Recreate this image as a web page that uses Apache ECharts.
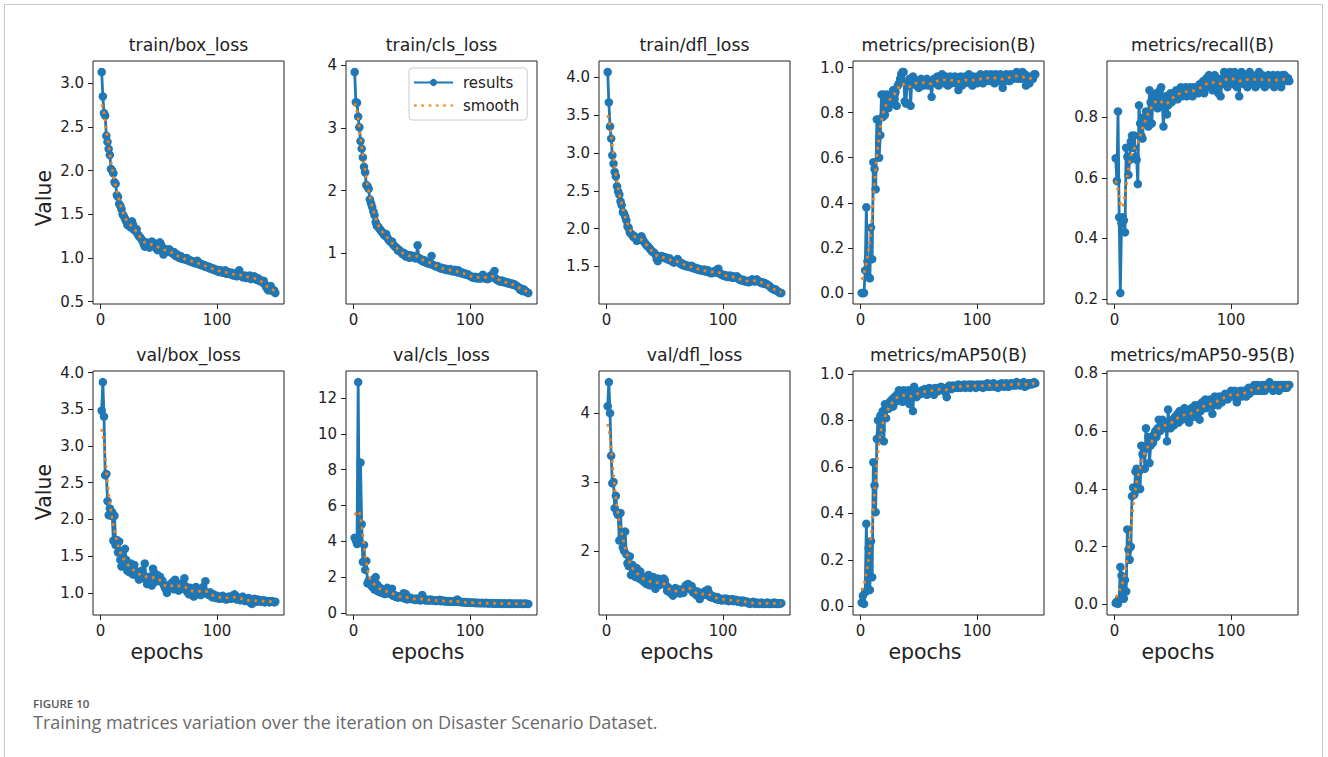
<!DOCTYPE html>
<html><head><meta charset="utf-8">
<script src="https://cdn.jsdelivr.net/npm/echarts@6/dist/echarts.min.js"></script>
<style>html,body{margin:0;padding:0;background:#fff;}#c{width:1328px;height:757px;}</style>
</head><body><div id="c"></div>
<script>
// ---------- DATA ----------
const epochs = Array.from({length: 150}, (_, i) => i + 1);
const xTicks = [0, 100];

const trainBoxLoss = [3.13,2.85,2.66,2.63,2.40,2.33,2.25,2.18,2.02,2.00,
1.97,1.87,1.85,1.72,1.70,1.62,1.60,1.56,1.50,1.48,
1.45,1.42,1.38,1.40,1.36,1.35,1.42,1.38,1.32,1.31,
1.33,1.27,1.25,1.24,1.22,1.20,1.16,1.13,1.18,1.17,
1.15,1.12,1.18,1.19,1.15,1.17,1.13,1.11,1.09,1.10,
1.18,1.15,1.12,1.04,1.06,1.10,1.09,1.08,1.10,1.07,
1.06,1.05,1.07,1.03,1.02,1.04,1.01,1.00,1.02,0.99,
1.00,0.99,0.98,1.00,0.97,0.98,0.96,0.97,0.95,0.96,
0.94,0.95,0.97,0.93,0.94,0.92,0.93,0.91,0.92,0.90,
0.91,0.89,0.90,0.88,0.89,0.87,0.88,0.86,0.87,0.85,
0.86,0.84,0.86,0.85,0.83,0.84,0.86,0.82,0.83,0.84,
0.82,0.81,0.83,0.80,0.82,0.81,0.79,0.80,0.86,0.81,
0.80,0.78,0.79,0.80,0.77,0.78,0.79,0.80,0.76,0.78,
0.77,0.79,0.76,0.75,0.77,0.74,0.75,0.73,0.72,0.74,
0.70,0.67,0.65,0.63,0.66,0.68,0.64,0.62,0.63,0.60];

const trainClsLoss = [3.89,3.41,3.40,3.18,3.01,2.79,2.67,2.53,2.38,2.29,
2.09,2.07,2.03,1.86,1.80,1.74,1.67,1.61,1.50,1.44,
1.43,1.40,1.38,1.35,1.33,1.30,1.28,1.31,1.25,1.22,
1.20,1.18,1.19,1.14,1.12,1.10,1.09,1.05,1.06,1.03,
1.02,0.99,1.01,0.97,0.95,0.98,0.96,0.93,0.97,0.95,
0.94,0.96,0.92,0.95,1.13,0.93,0.90,0.91,0.88,0.87,
0.89,0.86,0.85,0.84,0.86,0.83,0.96,0.82,0.81,0.80,
0.79,0.80,0.78,0.77,0.76,0.77,0.75,0.76,0.74,0.75,
0.73,0.74,0.75,0.72,0.73,0.71,0.74,0.72,0.70,0.73,
0.69,0.70,0.68,0.69,0.67,0.68,0.66,0.67,0.65,0.64,
0.63,0.62,0.61,0.63,0.62,0.60,0.61,0.62,0.60,0.63,
0.66,0.62,0.60,0.61,0.59,0.60,0.64,0.62,0.66,0.68,
0.72,0.60,0.58,0.57,0.56,0.55,0.57,0.56,0.54,0.55,
0.53,0.54,0.52,0.53,0.51,0.52,0.50,0.51,0.49,0.48,
0.47,0.45,0.42,0.44,0.40,0.43,0.41,0.39,0.38,0.37];

const trainDflLoss = [4.07,3.67,3.35,3.19,2.97,2.86,2.75,2.69,2.56,2.49,
2.45,2.36,2.31,2.22,2.20,2.16,2.11,2.03,2.01,1.95,
1.93,1.92,1.89,1.90,1.88,1.84,1.85,1.87,1.88,1.90,
1.86,1.83,1.81,1.79,1.77,1.76,1.74,1.72,1.70,1.69,
1.68,1.66,1.60,1.57,1.62,1.63,1.64,1.62,1.63,1.61,
1.62,1.60,1.59,1.61,1.58,1.57,1.56,1.55,1.57,1.58,
1.60,1.56,1.54,1.55,1.52,1.53,1.51,1.52,1.50,1.51,
1.50,1.49,1.51,1.48,1.49,1.47,1.48,1.46,1.47,1.45,
1.46,1.45,1.44,1.46,1.44,1.43,1.45,1.42,1.43,1.41,
1.42,1.43,1.44,1.42,1.46,1.47,1.41,1.40,1.39,1.38,
1.39,1.37,1.38,1.36,1.37,1.38,1.36,1.35,1.37,1.36,
1.35,1.37,1.34,1.33,1.32,1.33,1.31,1.32,1.30,1.31,
1.30,1.29,1.30,1.32,1.33,1.31,1.30,1.32,1.33,1.31,
1.30,1.29,1.28,1.29,1.27,1.28,1.27,1.26,1.25,1.24,
1.22,1.21,1.20,1.19,1.20,1.18,1.17,1.16,1.15,1.15];

const precision = [0.00,0.00,0.00,0.10,0.38,0.14,0.07,0.065,0.29,0.15,
0.58,0.55,0.46,0.77,0.77,0.60,0.70,0.88,0.78,0.88,
0.79,0.86,0.88,0.82,0.87,0.84,0.88,0.90,0.86,0.89,
0.83,0.92,0.93,0.95,0.97,0.98,0.98,0.85,0.84,0.93,
0.92,0.95,0.83,0.94,0.96,0.95,0.93,0.92,0.94,0.91,
0.93,0.95,0.94,0.92,0.94,0.93,0.95,0.92,0.94,0.93,
0.87,0.94,0.95,0.93,0.94,0.96,0.92,0.95,0.94,0.97,
0.95,0.93,0.96,0.94,0.92,0.95,0.96,0.93,0.95,0.94,
0.96,0.93,0.95,0.90,0.94,0.96,0.92,0.95,0.93,0.96,
0.94,0.95,0.97,0.93,0.95,0.92,0.96,0.94,0.95,0.93,
0.96,0.94,0.97,0.95,0.93,0.96,0.94,0.97,0.95,0.96,
0.94,0.97,0.95,0.96,0.93,0.97,0.95,0.96,0.94,0.97,
0.95,0.91,0.96,0.94,0.97,0.95,0.96,0.94,0.97,0.96,
0.95,0.97,0.96,0.98,0.95,0.96,0.97,0.95,0.98,0.96,
0.97,0.92,0.94,0.96,0.93,0.95,0.96,0.95,0.97,0.97];

const recall = [0.665,0.59,0.82,0.47,0.22,0.45,0.47,0.46,0.42,0.70,
0.67,0.61,0.66,0.72,0.74,0.70,0.74,0.67,0.66,0.58,
0.84,0.78,0.74,0.73,0.80,0.78,0.82,0.79,0.77,0.89,
0.85,0.78,0.87,0.84,0.86,0.88,0.83,0.86,0.89,0.90,
0.84,0.77,0.85,0.87,0.81,0.84,0.86,0.88,0.85,0.87,
0.86,0.88,0.89,0.86,0.87,0.88,0.90,0.87,0.89,0.88,
0.90,0.87,0.89,0.88,0.90,0.89,0.87,0.90,0.88,0.89,
0.90,0.88,0.91,0.89,0.90,0.92,0.88,0.91,0.93,0.90,
0.94,0.91,0.93,0.89,0.92,0.94,0.90,0.93,0.88,0.92,
0.87,0.91,0.93,0.95,0.92,0.94,0.90,0.93,0.95,0.92,
0.94,0.91,0.95,0.93,0.90,0.94,0.87,0.92,0.95,0.93,
0.91,0.94,0.92,0.90,0.93,0.95,0.92,0.94,0.91,0.93,
0.90,0.94,0.92,0.95,0.93,0.91,0.94,0.92,0.90,0.93,
0.92,0.94,0.91,0.93,0.92,0.94,0.90,0.93,0.92,0.94,
0.91,0.93,0.90,0.94,0.92,0.94,0.93,0.92,0.93,0.92];

const valBoxLoss = [3.48,3.87,3.40,2.60,2.62,2.25,2.06,2.15,2.05,2.10,
1.71,2.05,1.65,1.72,1.55,1.70,1.45,1.36,1.50,1.38,
1.60,1.45,1.30,1.36,1.28,1.40,1.33,1.25,1.38,1.30,
1.28,1.22,1.18,1.25,1.30,1.20,1.24,1.40,1.21,1.12,
1.15,1.22,1.18,1.10,1.33,1.28,1.15,1.20,1.24,1.18,
1.22,1.15,1.17,1.12,1.08,1.05,1.00,1.06,1.10,1.12,
1.08,1.15,1.05,1.18,1.10,1.08,1.03,1.12,1.06,1.10,
1.14,1.20,1.04,1.08,1.00,0.98,1.07,1.02,1.05,0.95,
1.03,1.08,0.98,1.02,1.05,0.97,1.00,1.08,1.02,1.16,
0.99,1.00,0.97,1.01,0.96,0.94,0.98,0.95,0.93,0.96,
0.94,0.92,0.95,0.93,0.96,0.92,0.94,0.91,0.93,0.95,
0.93,0.92,0.94,0.97,0.98,0.93,0.91,0.94,0.92,0.90,
0.93,0.95,0.91,0.89,0.92,0.90,0.93,0.88,0.86,0.85,
0.89,0.92,0.90,0.88,0.91,0.89,0.90,0.88,0.89,0.90,
0.87,0.89,0.88,0.89,0.87,0.88,0.89,0.88,0.87,0.88];

const valClsLoss = [4.20,4.05,3.85,12.90,4.00,8.40,4.95,2.85,3.80,2.40,
2.90,1.65,1.80,1.70,1.55,1.45,1.85,1.30,2.00,1.60,
1.20,1.45,1.15,1.35,1.10,1.20,1.05,1.25,1.40,1.10,
1.30,1.05,1.35,0.95,1.00,0.90,0.95,0.85,0.92,0.88,
0.90,0.85,1.10,0.80,1.05,0.75,0.82,0.78,0.85,0.80,
0.76,0.78,0.72,0.80,0.75,0.74,0.70,0.72,1.00,0.78,
0.72,0.70,0.74,0.68,0.71,0.75,0.69,0.72,0.68,0.70,
0.66,0.70,0.68,0.73,0.65,0.67,0.69,0.64,0.66,0.65,
0.63,0.66,0.64,0.62,0.65,0.63,0.61,0.64,0.75,0.62,
0.60,0.62,0.59,0.61,0.58,0.60,0.57,0.59,0.58,0.56,
0.57,0.56,0.58,0.55,0.57,0.54,0.56,0.55,0.53,0.56,
0.54,0.55,0.53,0.56,0.54,0.52,0.55,0.53,0.54,0.52,
0.53,0.51,0.54,0.52,0.53,0.51,0.52,0.50,0.53,0.51,
0.52,0.50,0.51,0.53,0.50,0.52,0.51,0.50,0.52,0.51,
0.50,0.51,0.52,0.50,0.51,0.50,0.52,0.51,0.50,0.50];

const valDflLoss = [4.10,4.45,4.00,3.38,2.98,3.00,2.62,2.80,2.55,2.52,
2.15,2.55,2.20,2.05,2.00,2.28,1.95,1.82,1.78,1.92,
1.65,1.80,1.72,1.68,1.62,1.75,1.66,1.60,1.70,1.58,
1.62,1.55,1.60,1.52,1.56,1.65,1.50,1.58,1.52,1.62,
1.48,1.45,1.55,1.60,1.50,1.58,1.52,1.55,1.60,1.57,
1.50,1.42,1.47,1.40,1.44,1.38,1.35,1.42,1.46,1.45,
1.40,1.43,1.38,1.44,1.41,1.39,1.45,1.50,1.48,1.52,
1.47,1.44,1.49,1.40,1.43,1.38,1.36,1.41,1.34,1.30,
1.38,1.35,1.40,1.37,1.42,1.36,1.44,1.39,1.33,1.35,
1.32,1.34,1.31,1.30,1.33,1.29,1.31,1.30,1.28,1.30,
1.29,1.31,1.28,1.30,1.27,1.29,1.28,1.30,1.27,1.28,
1.29,1.27,1.26,1.28,1.27,1.25,1.28,1.26,1.27,1.25,
1.26,1.24,1.23,1.25,1.24,1.26,1.24,1.23,1.25,1.24,
1.23,1.24,1.25,1.23,1.24,1.23,1.24,1.25,1.23,1.24,
1.23,1.24,1.23,1.25,1.24,1.23,1.24,1.23,1.24,1.24];

const mAP50 = [0.015,0.045,0.010,0.060,0.355,0.070,0.250,0.070,0.280,0.125,
0.620,0.520,0.405,0.720,0.800,0.725,0.820,0.760,0.840,0.710,
0.870,0.810,0.860,0.850,0.880,0.870,0.890,0.860,0.900,0.880,
0.910,0.895,0.930,0.905,0.920,0.880,0.930,0.910,0.890,0.920,
0.930,0.870,0.900,0.920,0.840,0.945,0.930,0.900,0.920,0.910,
0.925,0.915,0.930,0.920,0.935,0.925,0.910,0.930,0.940,0.920,
0.935,0.930,0.910,0.940,0.935,0.925,0.940,0.930,0.945,0.935,
0.940,0.930,0.920,0.900,0.940,0.950,0.945,0.935,0.950,0.940,
0.945,0.950,0.940,0.955,0.945,0.940,0.950,0.945,0.955,0.940,
0.950,0.945,0.955,0.940,0.950,0.955,0.945,0.950,0.940,0.955,
0.950,0.945,0.955,0.950,0.940,0.955,0.950,0.945,0.960,0.950,
0.945,0.955,0.950,0.960,0.945,0.955,0.950,0.940,0.955,0.950,
0.960,0.950,0.945,0.955,0.960,0.950,0.945,0.955,0.960,0.950,
0.955,0.960,0.950,0.965,0.955,0.960,0.950,0.960,0.955,0.965,
0.945,0.955,0.950,0.960,0.955,0.960,0.955,0.960,0.965,0.960];

const mAP5095 = [0.005,0.010,0.002,0.020,0.130,0.100,0.040,0.020,0.085,0.045,
0.260,0.190,0.155,0.200,0.375,0.405,0.380,0.460,0.470,0.400,
0.460,0.400,0.550,0.520,0.545,0.470,0.610,0.540,0.580,0.490,
0.550,0.570,0.560,0.590,0.600,0.580,0.610,0.640,0.600,0.630,
0.640,0.620,0.610,0.630,0.565,0.675,0.620,0.610,0.630,0.640,
0.620,0.650,0.640,0.660,0.630,0.670,0.650,0.640,0.660,0.680,
0.650,0.670,0.640,0.630,0.660,0.680,0.670,0.650,0.690,0.680,
0.660,0.690,0.640,0.670,0.700,0.680,0.690,0.710,0.680,0.700,
0.690,0.710,0.700,0.660,0.690,0.720,0.700,0.710,0.690,0.720,
0.710,0.700,0.720,0.710,0.730,0.720,0.710,0.730,0.720,0.740,
0.730,0.720,0.740,0.730,0.700,0.720,0.730,0.740,0.720,0.730,
0.740,0.730,0.720,0.740,0.750,0.730,0.740,0.750,0.740,0.760,
0.740,0.750,0.760,0.740,0.750,0.740,0.760,0.750,0.740,0.760,
0.750,0.760,0.770,0.750,0.760,0.740,0.750,0.760,0.750,0.760,
0.740,0.750,0.760,0.750,0.760,0.750,0.760,0.750,0.760,0.760];

const panelTitles = ['train/box_loss','train/cls_loss','train/dfl_loss','metrics/precision(B)','metrics/recall(B)',
                     'val/box_loss','val/cls_loss','val/dfl_loss','metrics/mAP50(B)','metrics/mAP50-95(B)'];
const panelSeries = [trainBoxLoss, trainClsLoss, trainDflLoss, precision, recall,
                     valBoxLoss, valClsLoss, valDflLoss, mAP50, mAP5095];
const yTicks = [
  [0.5,1.0,1.5,2.0,2.5,3.0],
  [1,2,3,4],
  [1.5,2.0,2.5,3.0,3.5,4.0],
  [0.0,0.2,0.4,0.6,0.8,1.0],
  [0.2,0.4,0.6,0.8],
  [1.0,1.5,2.0,2.5,3.0,3.5,4.0],
  [0,2,4,6,8,10,12],
  [2,3,4],
  [0.0,0.2,0.4,0.6,0.8,1.0],
  [0.0,0.2,0.4,0.6,0.8]
];
const yDecimals = [1,0,1,1,1,1,0,0,1,1];
const legendNames = ['results','smooth'];
const yLabelText = 'Value';
const xLabelText = 'epochs';
const captionHead = 'FIGURE 10';
const captionText = 'Training matrices variation over the iteration on Disaster Scenario Dataset.';

// ---------- helpers ----------
// "smooth" curve = gaussian filter (sigma 3) of the results, as in the original plotting tool
function gaussSmooth(y, sigma) {
  const r = Math.round(4 * sigma), w = []; let s = 0;
  for (let k = -r; k <= r; k++) { const v = Math.exp(-0.5 * k * k / (sigma * sigma)); w.push(v); s += v; }
  const n = y.length;
  return y.map((_, i) => {
    let acc = 0;
    for (let k = -r; k <= r; k++) {
      let j = i + k;
      while (j < 0 || j >= n) { if (j < 0) j = -j - 1; if (j >= n) j = 2 * n - j - 1; }
      acc += w[k + r] * y[j];
    }
    return acc / s;
  });
}

// ---------- layout ----------
const C0 = '#1f77b4', C1 = '#ff7f0e', INK = '#222';
const FONT = "'DejaVu Sans', 'Liberation Sans', sans-serif";
const CAPFONT = "'Open Sans', 'Noto Sans', sans-serif";
const TICK_FS = 15, TITLE_FS = 17.3, LABEL_FS = 20.5;
const lefts = [93, 346, 599, 853, 1107];
const tops = [61, 371];
const heights = [243, 244];
const gw = 191;
const titleY = [45, 355];
const valueLabelY = [198, 492];
const epochsX = [167, 428, 677, 925, 1178];
const epochsY = 652;

const xMin = epochs[0] - 0.05 * (epochs[epochs.length - 1] - epochs[0]);
const xMax = epochs[epochs.length - 1] + 0.05 * (epochs[epochs.length - 1] - epochs[0]);

const grids = [], xAxes = [], yAxes = [], series = [], graphics = [];

graphics.push({ type: 'rect', shape: { x: 4.5, y: 4.5, width: 1318, height: 800 },
  style: { fill: 'none', stroke: '#c8c8c8', lineWidth: 1 }, silent: true });

panelSeries.forEach((vals, i) => {
  const row = Math.floor(i / 5), col = i % 5;
  const lo = Math.min(...vals), hi = Math.max(...vals), rg = hi - lo;
  grids.push({ left: lefts[col], top: tops[row], width: gw, height: heights[row],
    show: true, borderColor: INK, borderWidth: 1, backgroundColor: 'transparent', containLabel: false });
  xAxes.push({ type: 'value', gridIndex: i, min: xMin, max: xMax,
    splitLine: { show: false }, axisLine: { show: false, onZero: false },
    axisTick: { show: true, length: 5, lineStyle: { color: INK, width: 1 }, customValues: xTicks },
    axisLabel: { customValues: xTicks, fontSize: TICK_FS, fontFamily: FONT, color: INK, margin: 8 } });
  const dec = yDecimals[i];
  yAxes.push({ type: 'value', gridIndex: i, min: lo - 0.05 * rg, max: hi + 0.05 * rg, scale: true,
    splitLine: { show: false }, axisLine: { show: false, onZero: false },
    axisTick: { show: true, length: 5, lineStyle: { color: INK, width: 1 }, customValues: yTicks[i] },
    axisLabel: { customValues: yTicks[i], fontSize: TICK_FS, fontFamily: FONT, color: INK, margin: 9,
      formatter: v => Number(v).toFixed(dec) } });
  const res = epochs.map((e, k) => [e, vals[k]]);
  const sm = gaussSmooth(vals, 3);
  series.push({ name: legendNames[0], type: 'line', xAxisIndex: i, yAxisIndex: i, data: res,
    symbol: 'circle', symbolSize: 8.5, showSymbol: true, z: 2,
    itemStyle: { color: C0, borderWidth: 0 }, lineStyle: { color: C0, width: 2.8 }, animation: false });
  series.push({ name: legendNames[1], type: 'line', xAxisIndex: i, yAxisIndex: i,
    data: epochs.map((e, k) => [e, sm[k]]), symbol: 'none', z: 3,
    itemStyle: { color: C1 }, lineStyle: { color: C1, width: 2.7, type: [2.7, 4.6], cap: 'butt' }, animation: false });
  graphics.push({ type: 'text', x: lefts[col] + gw / 2, y: titleY[row],
    style: { text: panelTitles[i], fontSize: TITLE_FS, fontFamily: FONT, fill: INK,
      align: 'center', verticalAlign: 'middle', textAlign: 'center', textVerticalAlign: 'middle' } });
  if (row === 1) {
    graphics.push({ type: 'text', x: epochsX[col], y: epochsY,
      style: { text: xLabelText, fontSize: LABEL_FS, fontFamily: FONT, fill: INK,
        align: 'center', verticalAlign: 'middle', textAlign: 'center', textVerticalAlign: 'middle' } });
  }
});

valueLabelY.forEach(y => {
  graphics.push({ type: 'text', x: 44, y: y, rotation: Math.PI / 2,
    style: { text: yLabelText, fontSize: LABEL_FS, fontFamily: FONT, fill: INK,
      align: 'center', verticalAlign: 'middle', textAlign: 'center', textVerticalAlign: 'middle' } });
});

graphics.push({ type: 'text', x: 33, y: 703,
  style: { text: captionHead, fontSize: 11.5, fontWeight: 600, fontFamily: CAPFONT, fill: '#555',
    align: 'left', verticalAlign: 'middle', textAlign: 'left', textVerticalAlign: 'middle' } });
graphics.push({ type: 'text', x: 33, y: 722,
  style: { text: captionText, fontSize: 18, fontFamily: CAPFONT, fill: '#6a6a6a',
    align: 'left', verticalAlign: 'middle', textAlign: 'left', textVerticalAlign: 'middle' } });

const chart = echarts.init(document.getElementById('c'), null, { renderer: 'svg', width: 1328, height: 757 });
chart.setOption({
  animation: false,
  backgroundColor: '#fff',
  grid: grids, xAxis: xAxes, yAxis: yAxes, series: series,
  legend: { data: [{ name: legendNames[0] }, { name: legendNames[1], itemStyle: { opacity: 0 } }],
    orient: 'vertical', left: 409, top: 68,
    itemWidth: 39, itemHeight: 9, itemGap: 6,
    backgroundColor: '#fff', borderColor: '#ccc', borderWidth: 1, borderRadius: 3,
    padding: [6, 8, 6, 4],
    textStyle: { fontSize: TICK_FS, fontFamily: FONT, color: INK, padding: [0, 0, 0, 5], lineHeight: 17 } },
  graphic: graphics
});
</script>
</body></html>
